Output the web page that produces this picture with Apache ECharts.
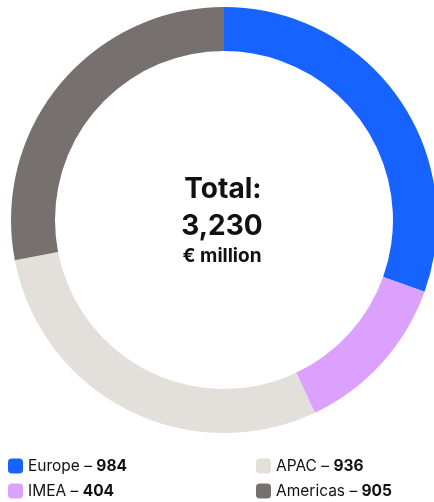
<!DOCTYPE html>
<html>
<head>
<meta charset="utf-8">
<script src="https://cdn.jsdelivr.net/npm/echarts@6/dist/echarts.min.js"></script>
<style>
  html, body { margin: 0; padding: 0; background: #fff; }
  #chart { width: 434px; height: 502px; }
</style>
</head>
<body>
<div id="chart"></div>
<script>
// Revenue split by region, € million
const regions = ['Europe', 'IMEA', 'APAC', 'Americas'];
const revenue = [984, 404, 936, 905];
const regionColors = ['#1763ff', '#dca1fd', '#e3dfda', '#76716e'];
const totalLabel = '3,230';
const unitLabel = '€ million';

const FONT = 'Inter, "Noto Sans", sans-serif';

const seriesData = regions.map((name, i) => ({
  name,
  value: revenue[i],
  itemStyle: { color: regionColors[i] }
}));

const valueOf = name => revenue[regions.indexOf(name)];

function legendAt(left, names) {
  return {
    orient: 'vertical',
    left,
    top: 458,
    padding: 0,
    data: names.map(n => ({ name: n, icon: 'roundRect' })),
    itemWidth: 15,
    itemHeight: 15,
    itemGap: 9,
    selectedMode: false,
    formatter: name => `{n|${name} – }{v|${valueOf(name)}}`,
    textStyle: {
      rich: {
        n: { fontFamily: FONT, fontSize: 15.5, color: '#111', fontWeight: 400 },
        v: { fontFamily: FONT, fontSize: 15.5, color: '#111', fontWeight: 700 }
      }
    }
  };
}

const chart = echarts.init(document.getElementById('chart'), null, { renderer: 'canvas' });
chart.setOption({
  animation: false,
  legend: [legendAt(8, ['Europe', 'IMEA']), legendAt(256, ['APAC', 'Americas'])],
  series: [{
    type: 'pie',
    center: [224, 220],
    radius: [169, 213],
    startAngle: 90,
    clockwise: true,
    silent: true,
    label: { show: false },
    labelLine: { show: false },
    data: seriesData
  }],
  graphic: [
    {
      type: 'text',
      style: { text: 'Total:', x: 223, y: 190, align: 'center', verticalAlign: 'middle',
               font: `700 28px ${FONT}`, fill: '#111' }
    },
    {
      type: 'text',
      style: { text: totalLabel, x: 222, y: 227, align: 'center', verticalAlign: 'middle',
               font: `700 28px ${FONT}`, fill: '#111' }
    },
    {
      type: 'text',
      style: { text: unitLabel, x: 222, y: 256, align: 'center', verticalAlign: 'middle',
               font: `700 19px ${FONT}`, fill: '#111' }
    }
  ]
});
</script>
</body>
</html>
